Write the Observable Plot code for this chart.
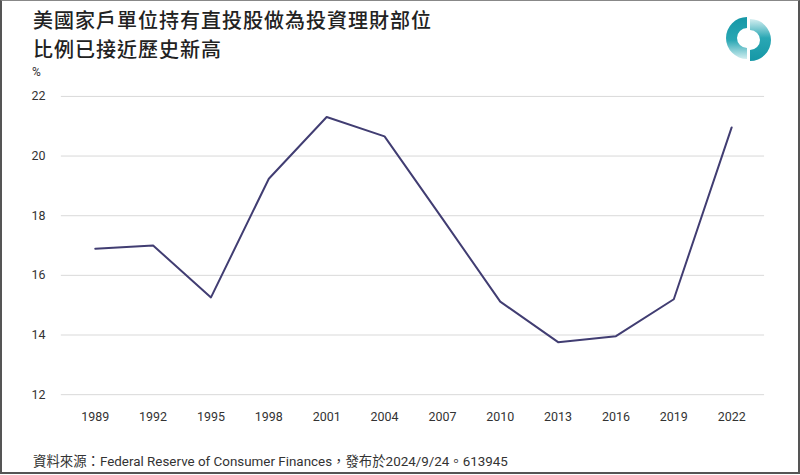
<!DOCTYPE html>
<html><head><meta charset="utf-8">
<script src="https://cdn.jsdelivr.net/npm/d3@7"></script>
<script src="https://cdn.jsdelivr.net/npm/@observablehq/plot@0.6"></script>
<style>
html,body{margin:0;padding:0;background:#fff;}
#wrap{position:relative;width:796px;height:471px;border:2px solid #555;border-top:1px solid #888;overflow:hidden;background:#fff;}
.tline{position:absolute;left:31px;font-family:"Noto Sans CJK TC","Noto Sans CJK SC",sans-serif;font-size:20px;line-height:22px;letter-spacing:1px;color:#222;font-weight:500;white-space:nowrap;}
#t1{top:8px;}
#t2{top:37px;}
#unit{position:absolute;left:30px;top:64px;font-family:"Roboto",sans-serif;font-size:12px;color:#333;}
#chart{position:absolute;left:-2px;top:59px;}
#caption{position:absolute;left:31px;top:449px;font-family:"Roboto","Noto Sans CJK TC",sans-serif;font-size:13.4px;color:#333;white-space:nowrap;}
#logo{position:absolute;left:722px;top:13px;}
</style></head>
<body>
<div id="wrap">
  <div id="t1" class="tline">美國家戶單位持有直投股做為投資理財部位</div>
  <div id="t2" class="tline">比例已接近歷史新高</div>
  <svg id="logo" width="50" height="50" viewBox="0 0 50 50">
    <defs>
      <linearGradient id="gl" x1="0" y1="0" x2="0" y2="1">
        <stop offset="0" stop-color="#1597a6"/><stop offset="0.55" stop-color="#2aa7b4"/><stop offset="1" stop-color="#d3eef0"/>
      </linearGradient>
      <linearGradient id="gr" x1="0" y1="0" x2="0" y2="1">
        <stop offset="0" stop-color="#d3eef0"/><stop offset="0.45" stop-color="#2aa7b4"/><stop offset="1" stop-color="#1597a6"/>
      </linearGradient>
    </defs>
    <path d="M23 3 A21 21 0 0 0 23 45 L23 34 A10 10 0 0 1 23 14 Z" fill="url(#gl)"/>
    <path d="M26 5 A21 21 0 0 1 26 47 L26 36 A10 10 0 0 0 26 16 Z" fill="url(#gr)"/>
  </svg>
  <div id="unit">%</div>
  <div id="chart"></div>
  <div id="caption">資料來源：Federal Reserve of Consumer Finances，發布於2024/9/24。613945</div>
</div>
<script>
const years = ["1989","1992","1995","1998","2001","2004","2007","2010","2013","2016","2019","2022"];
const shares = [16.89, 17.0, 15.26, 19.24, 21.31, 20.66, 17.9, 15.12, 13.76, 13.96, 15.2, 20.96];
const yTicks = [12, 14, 16, 18, 20, 22];

const data = years.map((y, i) => ({year: y, value: shares[i]}));

const chart = Plot.plot({
  width: 800,
  height: 380,
  marginTop: 36,
  marginBottom: 45,
  marginLeft: 61,
  marginRight: 34,
  style: {fontFamily: 'Roboto, sans-serif', fontSize: "12.5px", color: "#333", background: "transparent"},
  x: {type: "point", domain: years, padding: 0.52, label: null},
  y: {domain: [12, 22], ticks: yTicks, label: null},
  marks: [
    Plot.gridY(yTicks, {stroke: "#d9d9d9", strokeOpacity: 1, strokeWidth: 1}),
    Plot.axisY(yTicks, {tickSize: 0, tickPadding: 16, label: null}),
    Plot.axisX({tickSize: 0, tickPadding: 18, label: null}),
    Plot.line(data, {x: "year", y: "value", stroke: "#413d72", strokeWidth: 2})
  ]
});
document.getElementById("chart").appendChild(chart);
</script>
</body></html>
